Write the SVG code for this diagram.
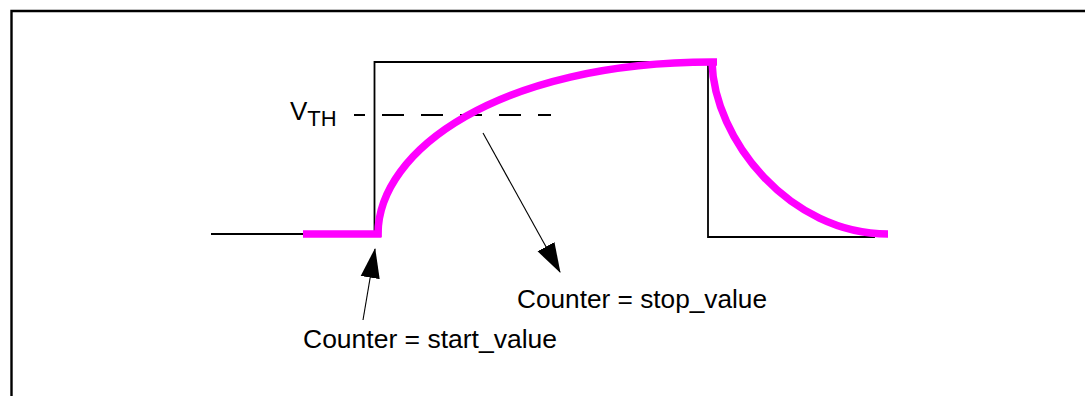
<svg xmlns="http://www.w3.org/2000/svg" width="1085" height="396" viewBox="0 0 1085 396">
<style>
.frame{fill:none;stroke:#000;stroke-width:2.4}
.sig{fill:none;stroke:#000;stroke-width:1.8}
.mag{fill:none;stroke:#ff00ff;stroke-width:7.5;stroke-linecap:butt}
.dash{fill:none;stroke:#000;stroke-width:2;stroke-dasharray:22 17;stroke-dashoffset:11}
.lead{fill:none;stroke:#000;stroke-width:1.1}
.t{font-family:"Liberation Sans",Arial,sans-serif;fill:#000}
</style>
<defs>
<marker id="ah" markerUnits="userSpaceOnUse" markerWidth="30" markerHeight="20" viewBox="0 0 28 18" refX="27" refY="9" orient="auto">
<path d="M0,0 L28,9 L0,18 z" fill="#000"/>
</marker>
</defs>
<path class="frame" d="M1090,11 H11.5 V400"/>
<g id="signal">
<path class="sig" d="M211,234 H374.5 V62 H708 V237 H875"/>
</g>
<g id="threshold">
<line class="dash" x1="354" y1="115" x2="551" y2="115"/>
<text class="t" x="290" y="120" font-size="26">V<tspan font-size="22" dy="6">TH</tspan></text>
</g>
<g id="curve">
<path class="mag" d="M303,234 H381.5"/>
<path class="mag" d="M378,237 V234 C378,150 500,62 712,62 H717" stroke-linecap="square"/>
<path class="mag" d="M712,62 C714,140 790,234 888,234" stroke-linecap="square"/>
</g>
<g id="connectors">
<line class="lead" x1="363" y1="320" x2="375" y2="249" marker-end="url(#ah)"/>
<line class="lead" x1="483" y1="133" x2="560" y2="272" marker-end="url(#ah)"/>
</g>
<g id="label-stop">
<text class="t" x="517" y="308" font-size="25.5" textLength="250" lengthAdjust="spacingAndGlyphs">Counter = stop_value</text>
</g>
<g id="label-start">
<text class="t" x="303" y="348" font-size="25.5" textLength="254" lengthAdjust="spacingAndGlyphs">Counter = start_value</text>
</g>
</svg>
